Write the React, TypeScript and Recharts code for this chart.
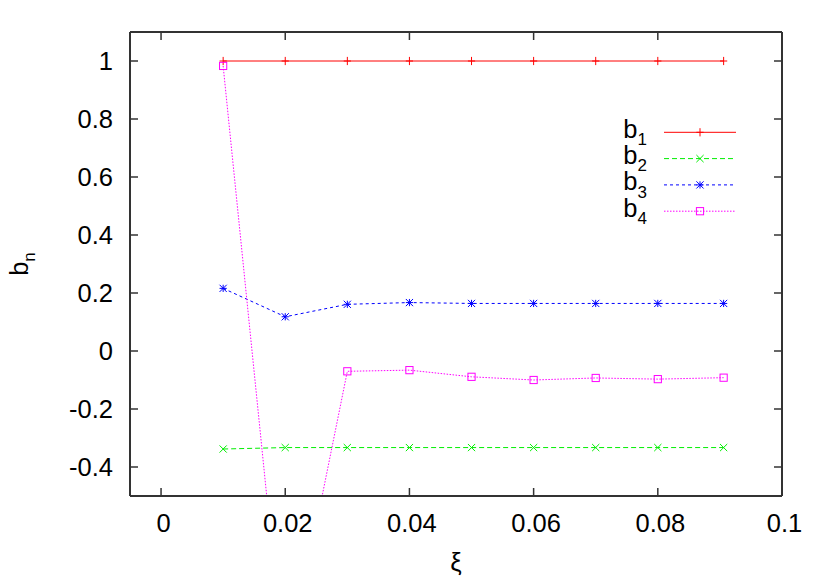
import React from 'react';
import { LineChart, Line, XAxis, YAxis, Legend } from 'recharts';

// ---- data ----
const xi = [0.01, 0.02, 0.03, 0.04, 0.05, 0.06, 0.07, 0.08, 0.0906];
const b1 = [1, 1, 1, 1, 1, 1, 1, 1, 1];
const b2 = [-0.338, -0.333, -0.333, -0.333, -0.333, -0.333, -0.333, -0.333, -0.333];
const b3 = [0.216, 0.118, 0.161, 0.167, 0.164, 0.164, 0.164, 0.164, 0.164];
const b4 = [0.983, -1.13, -0.07, -0.066, -0.089, -0.1, -0.093, -0.097, -0.092];

const xTicks = [0, 0.02, 0.04, 0.06, 0.08, 0.1];
const xTickLabels = ['0', '0.02', '0.04', '0.06', '0.08', '0.1'];
const yTicks = [-0.4, -0.2, 0, 0.2, 0.4, 0.6, 0.8, 1];
const yTickLabels = ['-0.4', '-0.2', '0', '0.2', '0.4', '0.6', '0.8', '1'];

const seriesKeys = ['b1', 'b2', 'b3', 'b4'];
const seriesSubs = ['1', '2', '3', '4'];
const seriesColors = ['#ff0000', '#00ee00', '#0000ff', '#ff00ff'];
const seriesDash = [undefined, '5 3', '3 3', '1.5 1.5'];
const seriesMarkers = ['plus', 'cross', 'star', 'square'];

const data = xi.map((x, i) => ({ x, b1: b1[i], b2: b2[i], b3: b3[i], b4: b4[i] }));

const FONT = '"Liberation Sans", Arial, Helvetica, sans-serif';
const FS = 25.5;
const FRAME = '#333333';

function Marker({ type, cx, cy, color }: any) {
  const s = 3.6;
  const common = { stroke: color, strokeWidth: 1, fill: 'none' };
  if (type === 'plus') {
    return (
      <g>
        <line x1={cx - s} x2={cx + s} y1={cy} y2={cy} {...common} />
        <line x1={cx} x2={cx} y1={cy - s - 0.5} y2={cy + s + 0.5} {...common} />
      </g>
    );
  }
  if (type === 'cross') {
    return (
      <g>
        <line x1={cx - s} x2={cx + s} y1={cy - s} y2={cy + s} {...common} />
        <line x1={cx - s} x2={cx + s} y1={cy + s} y2={cy - s} {...common} />
      </g>
    );
  }
  if (type === 'star') {
    return (
      <g>
        <line x1={cx - s} x2={cx + s} y1={cy - s} y2={cy + s} {...common} />
        <line x1={cx - s} x2={cx + s} y1={cy + s} y2={cy - s} {...common} />
        <line x1={cx - s} x2={cx + s} y1={cy} y2={cy} {...common} />
        <line x1={cx} x2={cx} y1={cy - s} y2={cy + s} {...common} />
      </g>
    );
  }
  return <rect x={cx - s} y={cy - s} width={2 * s} height={2 * s} {...common} />;
}

const BottomTick = (props: any) => {
  const { x, y, index } = props;
  return (
    <g>
      <line x1={x} x2={x} y1={y} y2={y - 8} stroke={FRAME} strokeWidth={1.5} />
      <text x={x + 2.5} y={y + 35.6} textAnchor="middle" fontFamily={FONT} fontSize={FS} fill="#000">
        {xTickLabels[index]}
      </text>
    </g>
  );
};

const TopTick = (props: any) => {
  const { x, y } = props;
  return <line x1={x} x2={x} y1={y} y2={y + 8} stroke={FRAME} strokeWidth={1.5} />;
};

const LeftTick = (props: any) => {
  const { x, y, index } = props;
  return (
    <g>
      <line x1={x} x2={x + 8} y1={y} y2={y} stroke={FRAME} strokeWidth={1.5} />
      <text x={x - 17} y={y} dy="0.36em" textAnchor="end" fontFamily={FONT} fontSize={FS} fill="#000">
        {yTickLabels[index]}
      </text>
    </g>
  );
};

const RightTick = (props: any) => {
  const { x, y } = props;
  return <line x1={x} x2={x - 8} y1={y} y2={y} stroke={FRAME} strokeWidth={1.5} />;
};

const XLabel = (props: any) => {
  const vb = props.viewBox || {};
  const cx = vb.x + vb.width / 2;
  return (
    <text x={cx} y={vb.y + 75} textAnchor="middle" fontFamily={FONT} fontSize={FS} fill="#000">
      ξ
    </text>
  );
};

const YLabel = (props: any) => {
  const vb = props.viewBox || {};
  const bx = vb.x - 2;
  const cy = vb.y + vb.height / 2;
  return (
    <text
      x={bx}
      y={cy}
      transform={`rotate(-90, ${bx}, ${cy})`}
      textAnchor="middle"
      fontFamily={FONT}
      fontSize={FS}
      fill="#000"
    >
      b
      <tspan dy={7} fontSize={17}>
        n
      </tspan>
    </text>
  );
};

const LegendContent = () => {
  return (
    <svg width={160} height={120} style={{ overflow: 'visible' }}>
      {seriesKeys.map((k, i) => {
        const ly = 22.3 + 26.3 * i;
        return (
          <g key={k}>
            <text x={47} y={ly + 5.4} textAnchor="end" fontFamily={FONT} fontSize={FS} fill="#000">
              b
              <tspan dy={7.3} fontSize={17}>
                {seriesSubs[i]}
              </tspan>
            </text>
            <line
              x1={64}
              x2={136}
              y1={ly}
              y2={ly}
              stroke={seriesColors[i]}
              strokeWidth={1}
              strokeDasharray={seriesDash[i]}
            />
            <Marker type={seriesMarkers[i]} cx={100} cy={ly} color={seriesColors[i]} />
          </g>
        );
      })}
    </svg>
  );
};

export default function App() {
  return (
    <div style={{ position: 'absolute', left: 0, top: 0, background: '#fff' }}>
      <LineChart
        width={830}
        height={581}
        data={data}
        margin={{ top: 31, right: 47, bottom: 25, left: 30 }}
      >
        <XAxis
          xAxisId="bottom"
          dataKey="x"
          type="number"
          domain={[-0.005, 0.1]}
          ticks={xTicks}
          interval={0}
          tickSize={0}
          tickMargin={0}
          tickLine={false}
          tick={BottomTick}
          axisLine={{ stroke: FRAME, strokeWidth: 2 }}
          height={60}
          orientation="bottom"
          label={{ content: XLabel }}
        />
        <XAxis
          xAxisId="top"
          dataKey="x"
          type="number"
          domain={[-0.005, 0.1]}
          ticks={xTicks}
          interval={0}
          tickSize={0}
          tickMargin={0}
          tickLine={false}
          tick={TopTick}
          axisLine={{ stroke: FRAME, strokeWidth: 2 }}
          height={1}
          orientation="top"
        />
        <YAxis
          yAxisId="left"
          type="number"
          domain={[-0.5, 1.1]}
          allowDataOverflow
          ticks={yTicks}
          interval={0}
          tickSize={0}
          tickMargin={0}
          tickLine={false}
          tick={LeftTick}
          axisLine={{ stroke: FRAME, strokeWidth: 2 }}
          width={100}
          orientation="left"
          label={{ content: YLabel }}
        />
        <YAxis
          yAxisId="right"
          type="number"
          domain={[-0.5, 1.1]}
          allowDataOverflow
          ticks={yTicks}
          interval={0}
          tickSize={0}
          tickMargin={0}
          tickLine={false}
          tick={RightTick}
          axisLine={{ stroke: FRAME, strokeWidth: 2 }}
          width={1}
          orientation="right"
        />
        <Legend
          layout="vertical"
          align="center"
          verticalAlign="middle"
          content={LegendContent}
          wrapperStyle={{ position: 'absolute', left: 600, top: 110, width: 160, height: 120 }}
        />
        {seriesKeys.map((k, i) => (
          <Line
            key={k}
            xAxisId="bottom"
            yAxisId="left"
            type="linear"
            dataKey={k}
            name={k}
            stroke={seriesColors[i]}
            strokeWidth={1}
            strokeDasharray={seriesDash[i]}
            isAnimationActive={false}
            dot={(p: any) => (
              <Marker key={`${k}-${p.index}`} type={seriesMarkers[i]} cx={p.cx} cy={p.cy} color={seriesColors[i]} />
            )}
            activeDot={false}
          />
        ))}
      </LineChart>
    </div>
  );
}
